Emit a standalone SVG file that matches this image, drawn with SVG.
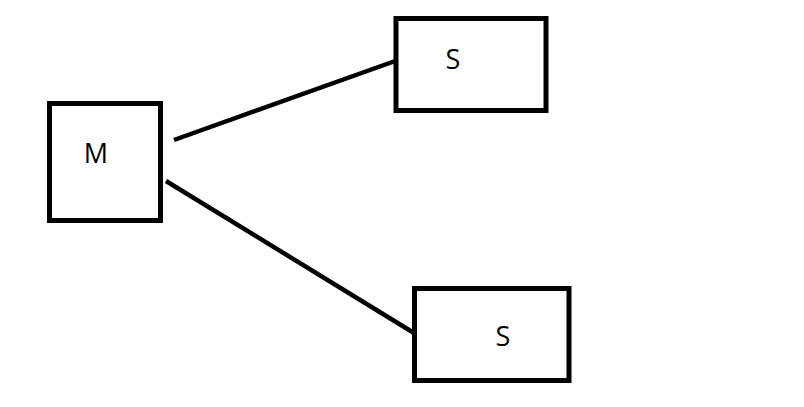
<svg xmlns="http://www.w3.org/2000/svg" width="804" height="407" viewBox="0 0 804 407">
<style>
.box{fill:#fff;stroke:#000;stroke-width:5}
.lbl{font-family:"Open Sans","Liberation Sans",sans-serif;font-size:27px;fill:#000;text-anchor:middle}
.edge{stroke:#000;stroke-width:4.5;fill:none}
</style>
<rect width="804" height="407" fill="#fff"/>
<g id="connectors">
<line class="edge" x1="174" y1="140" x2="398" y2="60"/>
<line class="edge" x1="166" y1="181" x2="414" y2="333"/>
</g>
<g id="M">
<rect class="box" x="49.5" y="103.5" width="111" height="117"/>
<text class="lbl" x="96" y="163">M</text>
</g>
<g id="S1">
<rect class="box" x="396" y="18.5" width="150" height="92"/>
<text class="lbl" x="453" y="69">S</text>
</g>
<g id="S2">
<rect class="box" x="414.5" y="288.5" width="154.5" height="92"/>
<text class="lbl" x="503" y="346">S</text>
</g>
</svg>
